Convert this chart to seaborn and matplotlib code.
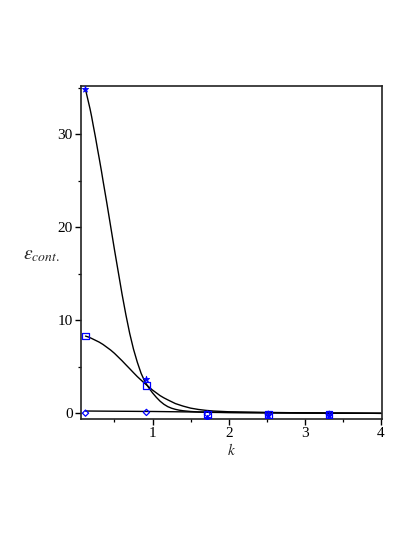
import numpy as np
import pandas as pd
import matplotlib
matplotlib.use("Agg")
import matplotlib.pyplot as plt
import seaborn as sns
from matplotlib.ticker import MultipleLocator

# ---- data ----
k_points = [0.12, 0.92, 1.72, 2.52, 3.32]
eps_star = [34.8, 3.7, -0.45, -0.15, -0.15]
eps_square = [8.3, 3.0, -0.12, -0.12, -0.12]
eps_diamond = [0.02, 0.1, -0.08, -0.1, -0.1]

k_curve_star = [0.12, 0.14, 0.16, 0.18, 0.20, 0.22, 0.25, 0.28, 0.30, 0.33,
                0.35, 0.40, 0.45, 0.50, 0.55, 0.60, 0.65, 0.70, 0.75, 0.80,
                0.85, 0.90, 0.95, 1.00, 1.05, 1.10, 1.15, 1.20, 1.25, 1.30,
                1.35, 1.40, 1.50, 1.60, 1.80, 2.00, 2.50, 3.00, 4.00]
eps_curve_star = [34.8, 34.1, 33.4, 32.7, 31.9, 31.0, 29.7, 28.3, 27.4, 26.0,
                  25.0, 22.6, 20.1, 17.6, 15.2, 12.8, 10.6, 8.6, 6.9, 5.5,
                  4.3, 3.4, 2.75, 2.2, 1.72, 1.3, 0.97, 0.72, 0.55, 0.43,
                  0.34, 0.28, 0.2, 0.15, 0.1, 0.08, 0.05, 0.03, 0.0]

k_curve_square = [0.12, 0.16, 0.20, 0.25, 0.30, 0.35, 0.40, 0.45, 0.50, 0.55,
                  0.60, 0.65, 0.70, 0.75, 0.80, 0.85, 0.90, 0.95, 1.00, 1.05,
                  1.10, 1.15, 1.20, 1.30, 1.40, 1.50, 1.60, 1.70, 1.80, 2.00,
                  2.50, 3.00, 4.00]
eps_curve_square = [8.3, 8.2, 8.05, 7.85, 7.65, 7.4, 7.1, 6.8, 6.45, 6.05,
                    5.65, 5.22, 4.8, 4.37, 3.95, 3.57, 3.2, 2.85, 2.5, 2.2,
                    1.9, 1.66, 1.45, 1.05, 0.78, 0.56, 0.42, 0.32, 0.25, 0.17,
                    0.1, 0.05, 0.0]

k_curve_diamond = [0.12, 1.00, 2.00, 3.00, 4.00]
eps_curve_diamond = [0.25, 0.2, 0.1, 0.04, 0.0]

x_ticks = [1, 2, 3, 4]
y_ticks = [0, 10, 20, 30]

# ---- build tables ----
curves = pd.concat([
    pd.DataFrame({"k": k_curve_star, "eps": eps_curve_star, "series": "star"}),
    pd.DataFrame({"k": k_curve_square, "eps": eps_curve_square, "series": "square"}),
    pd.DataFrame({"k": k_curve_diamond, "eps": eps_curve_diamond, "series": "diamond"}),
], ignore_index=True)

sns.set_theme(style="ticks")
plt.rcParams["font.family"] = ["Liberation Serif", "DejaVu Serif"]
plt.rcParams["mathtext.fontset"] = "stix"

fig = plt.figure(figsize=(4.15, 5.37), dpi=100)
ax = fig.add_axes([0.195, 0.2197, 0.725, 0.6207])

sns.lineplot(data=curves, x="k", y="eps", units="series", estimator=None,
             sort=False, color="black", linewidth=1.0, ax=ax, legend=False)

blue = "#0000ff"
sns.scatterplot(x=k_points, y=eps_diamond, marker="D", s=10,
                facecolor="none", edgecolor=blue, linewidth=0.9, ax=ax, zorder=5)
sns.scatterplot(x=k_points, y=eps_square, marker="s", s=22,
                facecolor="none", edgecolor=blue, linewidth=0.9, ax=ax, zorder=5)
sns.scatterplot(x=k_points, y=eps_star, marker="*", s=22,
                color=blue, edgecolor=blue, linewidth=0.6, ax=ax, zorder=6)

ax.set_xlim(0.06, 4.01)
ax.set_ylim(-0.61, 35.2)
ax.set_xticks(x_ticks)
ax.set_yticks(y_ticks)
ax.xaxis.set_minor_locator(MultipleLocator(0.5))
ax.yaxis.set_minor_locator(MultipleLocator(5))
ax.tick_params(which="major", direction="out", length=4, width=1.0,
               labelsize=11, color="black", labelcolor="black", pad=2)
ax.tick_params(which="minor", direction="out", length=2.5, width=0.9, color="black")

for s in ax.spines.values():
    s.set_visible(True)
    s.set_linewidth(1.2)
    s.set_color("#222222")

ax.set_xlabel(r"$k$", fontsize=11)
ax.xaxis.set_label_coords(0.5, -0.07)
ax.set_ylabel(r"$\varepsilon_{cont.}$", fontsize=14, rotation=0,
              ha="center", va="center")
ax.yaxis.set_label_coords(-0.13, 0.49)

fig.savefig("out.png", dpi=100)
